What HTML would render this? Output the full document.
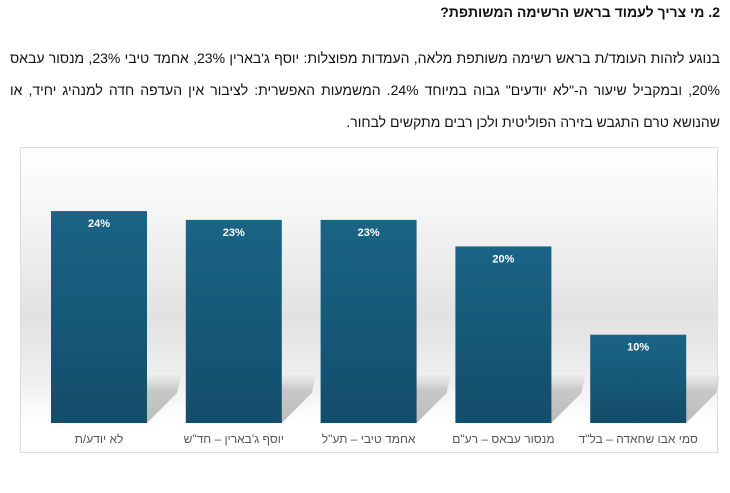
<!DOCTYPE html>
<html><head><meta charset="utf-8">
<style>
html,body{margin:0;padding:0;background:#fff;width:730px;height:493px;overflow:hidden}
body{font-family:"Liberation Sans","Noto Sans CJK SC",sans-serif;color:#111;direction:rtl}
#title{position:absolute;right:10px;top:4px;font-size:14px;font-weight:bold}
#para{position:absolute;right:10px;left:10px;top:42px;font-size:14px;line-height:32px;text-align:justify;text-align-last:right}
#chart{position:absolute;left:0;top:0}
</style></head><body>
<div id="title">2. מי צריך לעמוד בראש הרשימה המשותפת?</div>
<div id="para">בנוגע לזהות העומד/ת בראש רשימה משותפת מלאה, העמדות מפוצלות: יוסף ג'בארין 23%, אחמד טיבי 23%, מנסור עבאס 20%, ובמקביל שיעור ה-"לא יודעים" גבוה במיוחד 24%. המשמעות האפשרית: לציבור אין העדפה חדה למנהיג יחיד, או שהנושא טרם התגבש בזירה הפוליטית ולכן רבים מתקשים לבחור.</div>
<svg id="chart" width="730" height="493">
<defs>
<linearGradient id="bg" x1="0" y1="0" x2="0" y2="1">
<stop offset="0" stop-color="#fff"/><stop offset="0.2" stop-color="#f6f6f6"/><stop offset="0.55" stop-color="#e2e2e2"/><stop offset="0.78" stop-color="#f0f0f0"/><stop offset="0.9" stop-color="#fff"/><stop offset="1" stop-color="#fff"/></linearGradient>
<linearGradient id="bar" x1="0" y1="0" x2="0" y2="1">
<stop offset="0" stop-color="#1a6486"/><stop offset="1" stop-color="#134d6b"/></linearGradient>
<linearGradient id="sh" x1="0" y1="1" x2="0" y2="0">
<stop offset="0" stop-color="#bcbcbc"/><stop offset="0.7" stop-color="#c8c8c8"/><stop offset="1" stop-color="#d8d8d8" stop-opacity="0.2"/></linearGradient>
</defs>
<rect x="20.5" y="147.5" width="697" height="305" fill="url(#bg)" stroke="#ddd"/>
<g id="marks"></g>
</svg>
<script>
const categories=["לא יודע/ת","יוסף ג'בארין – חד\"ש","אחמד טיבי – תע\"ל","מנסור עבאס – רע\"ם","סמי אבו שחאדה – בל\"ד"];
const values=[24,23,23,20,10];
const labels=["24%","23%","23%","20%","10%"];
const base=423, scale=8.83, x0=51, step=134.8, bw=96;
const y=v=>base-v*scale;
const g=document.getElementById('marks');
const ns="http://www.w3.org/2000/svg";
values.forEach((v,i)=>{
  const x=x0+i*step, t=y(v);
  const s=document.createElementNS(ns,'polygon');
  s.setAttribute('points',`${x},${base} ${x+bw},${base} ${x+bw+30},${base-30} ${x+bw+34},${base-48} ${x+40},${base-48}`);
  s.setAttribute('fill','url(#sh)');
  
  
  g.appendChild(s);
});
values.forEach((v,i)=>{
  const x=x0+i*step, t=y(v);
  const r=document.createElementNS(ns,'rect');
  r.setAttribute('x',x);r.setAttribute('y',t);r.setAttribute('width',bw);r.setAttribute('height',base-t);
  r.setAttribute('fill','url(#bar)');
  
  
  g.appendChild(r);
  const l=document.createElementNS(ns,'text');
  l.setAttribute('x',x+bw/2);l.setAttribute('y',t+16);l.setAttribute('text-anchor','middle');
  l.setAttribute('fill','#fff');l.setAttribute('font-size','11');l.setAttribute('font-weight','bold');
  l.setAttribute('direction','ltr');
  l.textContent=labels[i];
  
  
  g.appendChild(l);
  const c=document.createElementNS(ns,'text');
  c.setAttribute('x',x+bw/2);c.setAttribute('y',443);c.setAttribute('text-anchor','middle');
  c.setAttribute('fill','#555');c.setAttribute('font-size','12');
  c.textContent=categories[i];
  
  
  g.appendChild(c);
});
</script>
</body></html>
